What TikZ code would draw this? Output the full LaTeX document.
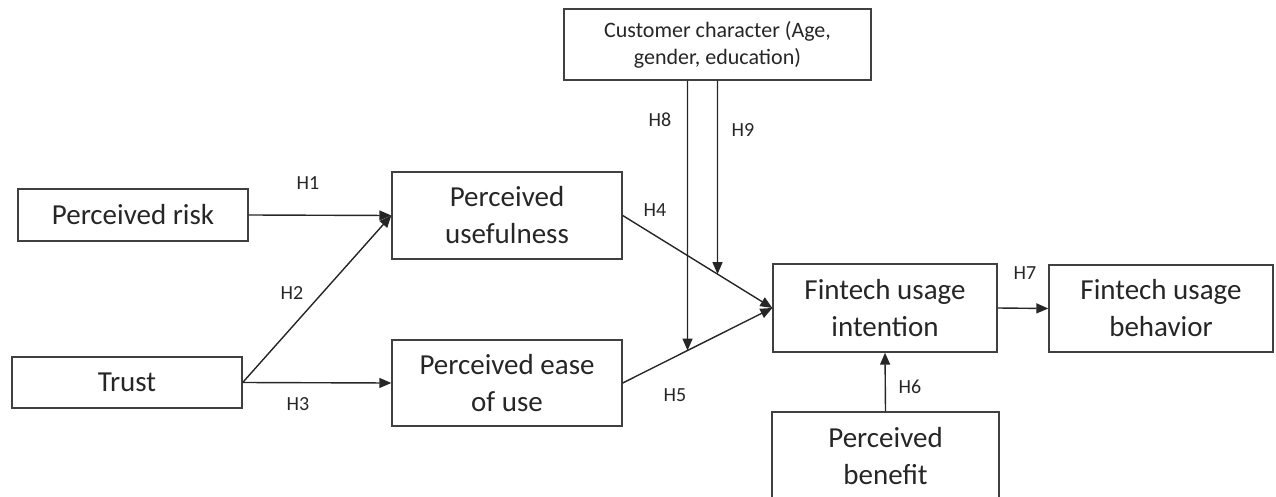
\documentclass[tikz,border=0pt]{standalone}
\usepackage{fontspec}
\setmainfont{Carlito}
\usepackage{xcolor}
\usetikzlibrary{arrows.meta}

\begin{document}
\begin{tikzpicture}[x=1pt, y=-1pt,
    box/.style={draw=black!75, line width=1.4pt, align=center, text=black!85,
                font=\fontsize{29}{37}\selectfont, minimum width=230pt, inner sep=0pt},
    hyp/.style={text=black!85, font=\fontsize{20}{24}\selectfont, inner sep=0pt},
    link/.style={draw=black!85, line width=1.4pt, -{Triangle[length=12pt,width=10pt]}}]
                % Frame of the picture
                \clip (0,0) rectangle (1276,497);
                % Constructs
                \node[box, minimum height=52pt] (risk) at (133,215) {Perceived risk};
                \node[box, minimum height=51pt] (trust) at (127,382.5) {Trust};
                \node[box, minimum height=87pt] (usef) at (507,215.5) {Perceived\\usefulness};
                \node[box, minimum height=86pt] (ease) at (507,383) {Perceived ease\\of use};
                \node[box, minimum width=307pt, minimum height=71pt,
                      font=\fontsize{22}{27}\selectfont] (cust) at (717.5,44.5)
                      {Customer character (Age,\\gender, education)};
                \node[box, minimum width=224pt, minimum height=88pt] (intent) at (885,308) {Fintech usage\\intention};
                \node[box, minimum width=224pt, minimum height=87pt] (behav) at (1161,308.5) {Fintech usage\\behavior};
                \node[box, minimum width=227pt, minimum height=88pt] (benef) at (885.5,456) {Perceived\\benefit};
                % Moderator end points
                \coordinate (h8top) at ([xshift=-30pt]cust.south);
                \coordinate (h8end) at (intersection of h8top--{[yshift=-400pt]h8top} and ease.east--intent.west);
                \coordinate (h9end) at (intersection of cust.south--{[yshift=-400pt]cust.south} and usef.east--intent.west);
                % Paths
                \draw[link] (risk.east) -- (usef.west);
                \draw[link] (trust.east) -- (usef.west);
                \draw[link] (trust.east) -- (ease.west);
                \draw[link] (usef.east) -- (intent.west);
                \draw[link] (ease.east) -- (intent.west);
                \draw[link] (benef.north) -- (intent.south);
                \draw[link] (intent.east) -- (behav.west);
                \draw[link] (h8top) -- (h8end);
                \draw[link] (cust.south) -- (h9end);
                % Hypotheses
                \node[hyp] (h1) at (308,183) {H1};
                \node[hyp] (h2) at (292,293) {H2};
                \node[hyp] (h3) at (298,404) {H3};
                \node[hyp] (h4) at (655,210) {H4};
                \node[hyp] (h5) at (675,395) {H5};
                \node[hyp] (h6) at (910,387) {H6};
                \node[hyp] (h7) at (1025,273) {H7};
                \node[hyp] (h8) at (660,120) {H8};
                \node[hyp] (h9) at (743,130) {H9};
            \end{tikzpicture}
\end{document}
